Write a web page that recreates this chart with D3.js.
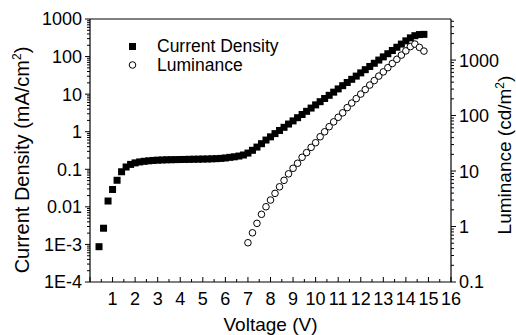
<!DOCTYPE html>
<html>
<head>
<meta charset="utf-8">
<script src="https://d3js.org/d3.v7.min.js"></script>
<style>
  body { margin: 0; background: #fff; }
  text { font-family: "Liberation Sans", Arial, sans-serif; fill: #000; }
</style>
</head>
<body>
<div id="chart"></div>
<script>
// current density series (squares)
var voltageJ = [0.4, 0.6, 0.8, 1.0, 1.2, 1.4, 1.6, 1.8, 2.0, 2.2, 2.4, 2.6, 2.8, 3.0, 3.2, 3.4, 3.6, 3.8,
    4.0, 4.2, 4.4, 4.6, 4.8, 5.0, 5.2, 5.4, 5.6, 5.8, 6.0, 6.2, 6.4, 6.6, 6.8, 7.0, 7.2, 7.4, 7.6,
    7.8, 8.0, 8.2, 8.4, 8.6, 8.8, 9.0, 9.2, 9.4, 9.6, 9.8, 10.0, 10.2, 10.4, 10.6, 10.8, 11.0, 11.2,
    11.4, 11.6, 11.8, 12.0, 12.2, 12.4, 12.6, 12.8, 13.0, 13.2, 13.4, 13.6, 13.8, 14.0, 14.2, 14.4, 14.6, 14.8];
var currentDensity = [0.00087, 0.0027, 0.0143, 0.029, 0.051, 0.086, 0.115, 0.135, 0.148, 0.157, 0.163, 0.168,
    0.172, 0.175, 0.177, 0.179, 0.180, 0.181, 0.182, 0.183, 0.184, 0.185, 0.186, 0.187, 0.188, 0.190, 0.192,
    0.195, 0.200, 0.208, 0.215, 0.225, 0.240, 0.27, 0.32, 0.39, 0.48,
    0.60, 0.73, 0.89, 1.08, 1.31, 1.60, 1.94, 2.36, 2.87, 3.49, 4.26, 5.18, 6.30, 7.66, 9.31, 11.3, 13.8,
    16.8, 20.4, 24.8, 30.2, 36.8, 44.8, 54.5, 66.3, 80.7, 98.2, 119, 145, 177, 215, 262, 315, 360, 385, 390];

// luminance series (circles)
var voltageL = [7.0, 7.2, 7.4, 7.6, 7.8, 8.0, 8.2, 8.4, 8.6, 8.8, 9.0, 9.2, 9.4, 9.6, 9.8, 10.0, 10.2, 10.4,
    10.6, 10.8, 11.0, 11.2, 11.4, 11.6, 11.8, 12.0, 12.2, 12.4, 12.6, 12.8, 13.0, 13.2, 13.4, 13.6, 13.8,
    14.0, 14.2, 14.4, 14.6, 14.8];
var luminance = [0.51, 0.77, 1.14, 1.66, 2.27, 3.0, 3.96, 5.2, 6.8, 8.9, 11.2, 13.8, 17.7, 21.5, 26.7, 32.4,
    41.5, 51, 63, 77, 93, 112, 139, 168, 202, 244, 294, 355, 427, 515, 613, 730, 868, 1033, 1230, 1466,
    1750, 1941, 1693, 1452];

var xTicks = [1, 2, 3, 4, 5, 6, 7, 8, 9, 10, 11, 12, 13, 14, 15, 16];
var leftTicks = [1000, 100, 10, 1, 0.1, 0.01, 0.001, 0.0001];
var leftLabels = ["1000", "100", "10", "1", "0.1", "0.01", "1E-3", "1E-4"];
var rightTicks = [0.1, 1, 10, 100, 1000];
var rightLabels = ["0.1", "1", "10", "100", "1000"];

var width = 516,
    height = 335;
var plotLeft = 90, plotRight = 451, plotTop = 19, plotBottom = 282;

var svg = d3.select("#chart")
    .append("svg")
    .attr("width", width)
    .attr("height", height);

var x = d3.scaleLinear().domain([0, 16]).range([plotLeft, plotRight]);
var yL = d3.scaleLog().domain([1e-4, 1000]).range([plotBottom, plotTop]);
var yR = d3.scaleLog().domain([0.1, 5500]).range([plotBottom, plotTop]);

// minor tick values on the log axes
function logMinors(scale) {
    var d = scale.domain(), out = [];
    for (var e = Math.floor(Math.log10(d[0])); e < Math.ceil(Math.log10(d[1])); e++) {
        for (var m = 2; m < 10; m++) {
            var v = m * Math.pow(10, e);
            if (v > d[0] && v < d[1]) out.push(v);
        }
    }
    return out;
}

// bottom axis, ticks point inward
var xAxis = svg.append("g").attr("transform", "translate(0," + plotBottom + ")");
xAxis.append("line").attr("x1", plotLeft).attr("x2", plotRight).attr("stroke", "#000").attr("stroke-width", 1.2);
var xMinor = [];
for (var i = 0; i <= 32; i++) xMinor.push(i / 2);
xAxis.selectAll(".xt").data(xMinor).enter().append("line")
    .attr("x1", function(d) { return x(d); })
    .attr("x2", function(d) { return x(d); })
    .attr("y1", 0)
    .attr("y2", function(d) { return d % 1 === 0 ? -5 : -3; })
    .attr("stroke", "#000");
xAxis.selectAll(".xl").data(xTicks).enter().append("text")
    .attr("x", function(d) { return x(d); })
    .attr("y", 23)
    .attr("text-anchor", "middle")
    .style("font-size", "18px")
    .text(function(d) { return d; });

// top frame line
svg.append("line").attr("x1", plotLeft).attr("x2", plotRight).attr("y1", plotTop).attr("y2", plotTop)
    .attr("stroke", "#000").attr("stroke-width", 1.2);

// left axis
var yAxisL = svg.append("g").attr("transform", "translate(" + plotLeft + ",0)");
yAxisL.append("line").attr("y1", plotTop).attr("y2", plotBottom).attr("stroke", "#000").attr("stroke-width", 1.2);
yAxisL.selectAll(".mn").data(logMinors(yL)).enter().append("line")
    .attr("x1", 0).attr("x2", -3)
    .attr("y1", function(d) { return yL(d); }).attr("y2", function(d) { return yL(d); })
    .attr("stroke", "#000");
yAxisL.selectAll(".mj").data(leftTicks).enter().append("line")
    .attr("x1", 0).attr("x2", -5)
    .attr("y1", function(d) { return yL(d); }).attr("y2", function(d) { return yL(d); })
    .attr("stroke", "#000");
yAxisL.selectAll(".lb").data(leftTicks).enter().append("text")
    .attr("x", -8)
    .attr("y", function(d) { return yL(d); })
    .attr("dy", "0.36em")
    .attr("text-anchor", "end")
    .style("font-size", "18px")
    .text(function(d, i) { return leftLabels[i]; });

// right axis
var yAxisR = svg.append("g").attr("transform", "translate(" + plotRight + ",0)");
yAxisR.append("line").attr("y1", plotTop).attr("y2", plotBottom).attr("stroke", "#000").attr("stroke-width", 1.2);
yAxisR.selectAll(".mn").data(logMinors(yR)).enter().append("line")
    .attr("x1", 0).attr("x2", 3)
    .attr("y1", function(d) { return yR(d); }).attr("y2", function(d) { return yR(d); })
    .attr("stroke", "#000");
yAxisR.selectAll(".mj").data(rightTicks).enter().append("line")
    .attr("x1", 0).attr("x2", 5)
    .attr("y1", function(d) { return yR(d); }).attr("y2", function(d) { return yR(d); })
    .attr("stroke", "#000");
yAxisR.selectAll(".lb").data(rightTicks).enter().append("text")
    .attr("x", 8)
    .attr("y", function(d) { return yR(d); })
    .attr("dy", "0.36em")
    .attr("text-anchor", "start")
    .style("font-size", "18px")
    .text(function(d, i) { return rightLabels[i]; });

// axis titles
svg.append("text")
    .attr("x", (plotLeft + plotRight) / 2)
    .attr("y", 331)
    .attr("text-anchor", "middle")
    .style("font-size", "19px")
    .text("Voltage (V)");

var tl = svg.append("text")
    .attr("transform", "translate(29,160) rotate(-90)")
    .attr("text-anchor", "middle")
    .style("font-size", "20px");
tl.append("tspan").text("Current Density (mA/cm");
tl.append("tspan").attr("dy", -8).style("font-size", "12px").text("2");
tl.append("tspan").attr("dy", 8).text(")");

var tr = svg.append("text")
    .attr("transform", "translate(511,155) rotate(-90)")
    .attr("text-anchor", "middle")
    .style("font-size", "19px");
tr.append("tspan").text("Luminance (cd/m");
tr.append("tspan").attr("dy", -7).style("font-size", "12px").text("2");
tr.append("tspan").attr("dy", 7).text(")");

// data marks
var sq = 7;
svg.append("g").selectAll("rect")
    .data(voltageJ)
    .enter().append("rect")
    .attr("x", function(d) { return x(d) - sq / 2; })
    .attr("y", function(d, i) { return yL(currentDensity[i]) - sq / 2; })
    .attr("width", sq)
    .attr("height", sq)
    .style("fill", "#000");

svg.append("g").selectAll("circle")
    .data(voltageL)
    .enter().append("circle")
    .attr("cx", function(d) { return x(d); })
    .attr("cy", function(d, i) { return yR(luminance[i]); })
    .attr("r", 3.3)
    .style("fill", "#fff")
    .style("stroke", "#000")
    .style("stroke-width", 1);

// legend
var legend = svg.append("g");
legend.append("rect").attr("x", 129).attr("y", 43).attr("width", sq).attr("height", sq).style("fill", "#000");
legend.append("text").attr("x", 157).attr("y", 52).style("font-size", "17.5px").text("Current Density");
legend.append("circle").attr("cx", 132.5).attr("cy", 65).attr("r", 3.3)
    .style("fill", "#fff").style("stroke", "#000");
legend.append("text").attr("x", 157).attr("y", 71).style("font-size", "17.5px").text("Luminance");
</script>
</body>
</html>
